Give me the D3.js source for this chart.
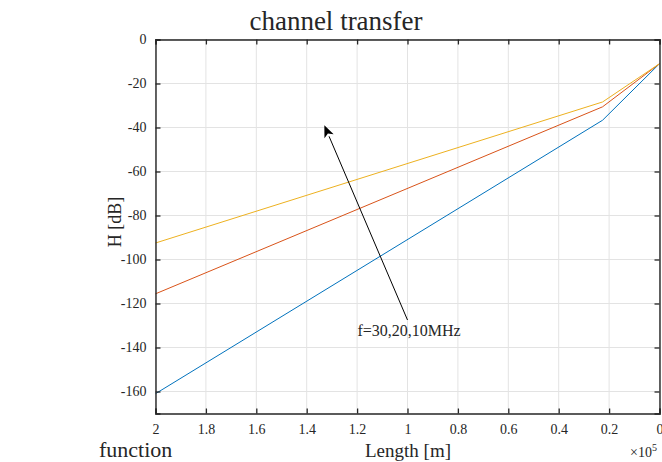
<!DOCTYPE html>
<html><head><meta charset="utf-8">
<script src="https://cdn.jsdelivr.net/npm/d3@7"></script>
<style>body{margin:0;background:#fff}svg{display:block}text{font-family:"Liberation Serif","Times New Roman",serif;fill:#262626}</style>
</head><body><svg id="c" width="662" height="462"></svg>
<script>
const lengths = [200000, 22600, 0];
const h10 = [-161, -36.7, -11];
const h20 = [-115.6, -30.6, -11];
const h30 = [-92.5, -28.4, -11];
const seriesColors = ["#0072BD", "#D95319", "#EDB120"];
const xTicks = [2, 1.8, 1.6, 1.4, 1.2, 1, 0.8, 0.6, 0.4, 0.2, 0];
const yTicks = [0, -20, -40, -60, -80, -100, -120, -140, -160];

const svg = d3.select("#c");
const L = 155.5, R = 659.5, T = 39.5, B = 413.5;
const x = d3.scaleLinear().domain([2, 0]).range([L, R]);
const y = d3.scaleLinear().domain([-170, 0]).range([B, T]);

// grid
const g = svg.append("g");
g.selectAll(".vx").data(xTicks).join("line")
  .attr("x1", d => x(d)).attr("x2", d => x(d)).attr("y1", T).attr("y2", B)
  .attr("stroke", "#e3e3e3").attr("stroke-width", 1);
g.selectAll(".hy").data(yTicks).join("line")
  .attr("x1", L).attr("x2", R).attr("y1", d => y(d)).attr("y2", d => y(d))
  .attr("stroke", "#e3e3e3").attr("stroke-width", 1);

// lines
const line = d3.line().x(d => x(d[0] / 1e5)).y(d => y(d[1]));
[h10, h20, h30].forEach((s, i) => {
  svg.append("path").datum(lengths.map((l, j) => [l, s[j]]))
    .attr("d", line).attr("fill", "none").attr("stroke", seriesColors[i]).attr("stroke-width", 1);
});

// axes
const xb = d3.axisBottom(x).tickValues(xTicks).tickSize(-5).tickPadding(11).tickFormat(d3.format("~g"));
const xt = d3.axisTop(x).tickValues(xTicks).tickSize(-5).tickFormat("");
const yl = d3.axisLeft(y).tickValues(yTicks).tickSize(-5).tickPadding(9).tickFormat(d => d);
const yr = d3.axisRight(y).tickValues(yTicks).tickSize(-5).tickFormat("");
function style(sel){
  sel.select(".domain").attr("stroke", "#262626").attr("stroke-width", 1.4);
  sel.selectAll(".tick line").attr("stroke", "#262626").attr("stroke-width", 1.3);
  sel.selectAll(".tick text").attr("font-size", 14).attr("font-family", '"Liberation Serif",serif').attr("fill", "#262626");
}
svg.append("g").attr("transform", `translate(0,${B})`).call(xb).call(style);
svg.append("g").attr("transform", `translate(0,${T})`).call(xt).call(style);
svg.append("g").attr("transform", `translate(${L},0)`).call(yl).call(style);
svg.append("g").attr("transform", `translate(${R},0)`).call(yr).call(style);

// labels
svg.append("text").attr("x", 336).attr("y", 30).attr("text-anchor", "middle").attr("font-size", 27).text("channel transfer");
svg.append("text").attr("x", 408).attr("y", 457).attr("text-anchor", "middle").attr("font-size", 19).text("Length [m]");
svg.append("text").attr("transform", "translate(121,222) rotate(-90)").attr("text-anchor", "middle").attr("font-size", 18).text("H [dB]");
svg.append("text").attr("x", 99).attr("y", 457).attr("font-size", 22).text("function");
const ex = svg.append("text").attr("x", 630).attr("y", 457).attr("font-size", 14);
ex.append("tspan").text("×10");
ex.append("tspan").attr("dy", -6).attr("font-size", 10).text("5");

// annotation arrow
const tail = [1.0, -127.5], tip = [1.33, -39];
const ax1 = x(tail[0]), ay1 = y(tail[1]), ax2 = x(tip[0]), ay2 = y(tip[1]);
const ang = Math.atan2(ay2 - ay1, ax2 - ax1);
const hl = 12, hw = 5;
const bx = ax2 - hl * Math.cos(ang), by = ay2 - hl * Math.sin(ang);
svg.append("line").attr("x1", ax1).attr("y1", ay1).attr("x2", bx).attr("y2", by).attr("stroke", "#000").attr("stroke-width", 1);
const p1 = [bx + hw * Math.sin(ang), by - hw * Math.cos(ang)];
const p2 = [bx - hw * Math.sin(ang), by + hw * Math.cos(ang)];
const notch = [ax2 - hl * 0.75 * Math.cos(ang), ay2 - hl * 0.75 * Math.sin(ang)];
svg.append("path").attr("d", `M${ax2},${ay2}L${p1[0]},${p1[1]}L${notch[0]},${notch[1]}L${p2[0]},${p2[1]}Z`).attr("fill", "#000");
svg.append("text").attr("x", 409).attr("y", 336).attr("text-anchor", "middle").attr("font-size", 16).attr("fill", "#000").text("f=30,20,10MHz");
</script></body></html>
